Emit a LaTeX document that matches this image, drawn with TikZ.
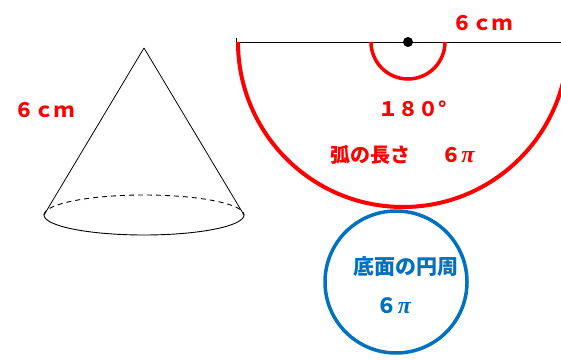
\documentclass[tikz,border=0pt]{standalone}
\usepackage{amsmath}
\usepackage{fontspec}
\newfontfamily\jpfont{Noto Sans CJK JP}
\newfontfamily\pifont{Liberation Serif}
\newcommand{\pisym}{{\pifont\bfseries\itshape\fontsize{24}{24}\selectfont π}}
\definecolor{sectred}{RGB}{255,0,0}
\definecolor{baseblue}{RGB}{0,112,192}
\begin{document}
\begin{tikzpicture}[x=1pt,y=1pt,
    redtxt/.style={text=sectred, font=\jpfont\bfseries\fontsize{20}{24}\selectfont, inner sep=0pt},
    bluetxt/.style={text=baseblue, font=\jpfont\bfseries\fontsize{21}{25}\selectfont, inner sep=0pt}]
        \useasboundingbox (0,0) rectangle (561,359);

        % Draw the cone
        \coordinate (apex) at (144,311);
        \coordinate (baseL) at (44,144);
        \coordinate (baseR) at (244,144);
        \draw[line width=0.8pt] (apex) -- (baseL);
        \draw[line width=0.8pt] (apex) -- (baseR);
        \draw[line width=0.9pt] (baseL) arc[start angle=180, end angle=360, x radius=100, y radius=20];
        \draw[line width=0.9pt, dash pattern=on 5pt off 4pt] (baseL) arc[start angle=180, end angle=0, x radius=100, y radius=20];
        \node[redtxt] (slant) at (44,249) {６ｃｍ};

        % Draw the sector (half circle)
        \coordinate (O) at (403,317);
        \coordinate (lineL) at (236,317);
        \coordinate (lineR) at (561,317);
        \draw[line width=0.8pt] (lineL) -- (lineR);
        \draw[line width=0.8pt] (lineL) -- ++(0,4);
        \draw[sectred, line width=4pt] (238,317) arc[start angle=180, end angle=360, radius=165];
        \draw[sectred, line width=3.5pt] (371,317) arc[start angle=180, end angle=360, radius=37];
        \fill (408,317) circle (5);
        \node[redtxt] (radius) at (482,336) {６ｃｍ};
        \node[redtxt] (angle) at (413,250) {１８０°};
        \node[redtxt] (arclen) at (370,204) {弧の長さ};
        \node[redtxt] (arcval) at (458,204) {６\pisym};

        % Draw the base circle
        \coordinate (C) at (396,77);
        \draw[baseblue, line width=3.5pt] (C) circle (71);
        \node[bluetxt] (circum) at (406,92) {底面の円周};
        \node[bluetxt] (circval) at (394,53) {６\pisym};
    \end{tikzpicture}
\end{document}
